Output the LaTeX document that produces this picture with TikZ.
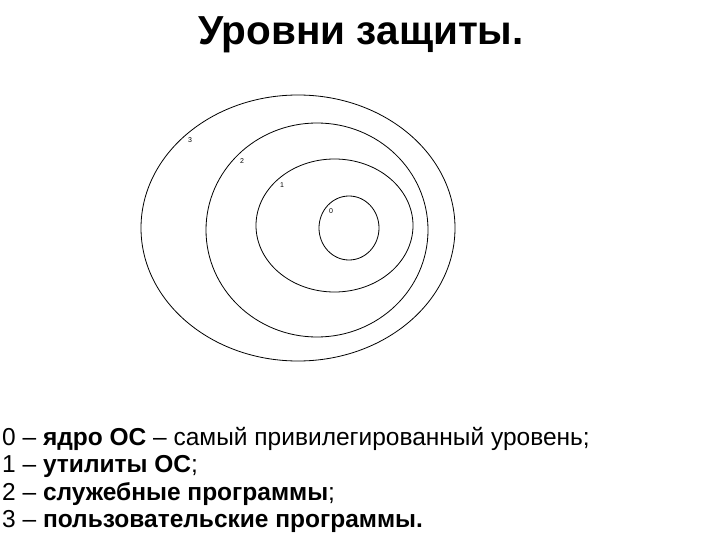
\documentclass[tikz,border=0pt]{standalone}
\usepackage{fontspec}
\setmainfont{Liberation Sans}
\begin{document}
\begin{tikzpicture}[x=1pt,y=-1pt,
  ring/.style={draw=black,line width=0.8pt},
  lvl/.style={font=\fontsize{7}{8}\selectfont,inner sep=0pt},
  legend/.style={anchor=base west,inner sep=0pt,font=\fontsize{24.5}{27}\selectfont}]
\useasboundingbox[fill=white] (0,0) rectangle (720,540);
\node[font=\fontsize{40.5}{46}\bfseries\selectfont,inner sep=0pt,anchor=base] (title) at (361,45) {Уровни защиты.};
\draw[ring] (298,228) ellipse [x radius=157,y radius=133];
\draw[ring] (317,230) ellipse [x radius=111,y radius=107];
\draw[ring] (334.5,225.5) ellipse [x radius=78.5,y radius=66.5];
\draw[ring] (349,228) ellipse [x radius=30,y radius=32];
\node[lvl] (l3) at (190,140) {3};
\node[lvl] (l2) at (242,161) {2};
\node[lvl] (l1) at (282,185) {1};
\node[lvl] (l0) at (331,211) {0};
\node[legend] (t0) at (2,445) {0 – \textbf{ядро ОС} – самый привилегированный уровень;};
\node[legend] (t1) at (2,472.5) {1 – \textbf{утилиты ОС};};
\node[legend] (t2) at (2,500) {2 – \textbf{служебные программы};};
\node[legend] (t3) at (2,527.5) {3 – \textbf{пользовательские программы.}};
\end{tikzpicture}
\end{document}
